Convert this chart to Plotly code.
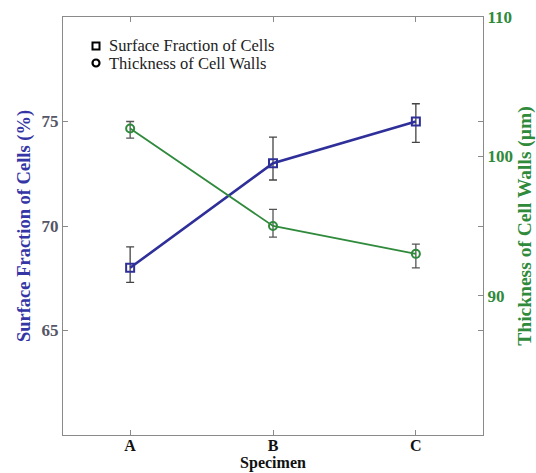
import plotly.graph_objects as go

specimens = ["A", "B", "C"]
xpos = [0, 1, 2]
surface_fraction = [68.0, 73.0, 75.0]
sf_err_plus = [1.0, 1.25, 0.85]
sf_err_minus = [0.7, 0.8, 1.0]
wall_thickness = [102.0, 95.0, 93.0]
wt_err_plus = [0.5, 1.2, 0.7]
wt_err_minus = [0.7, 0.8, 1.0]
legend_labels = ["Surface Fraction of Cells", "Thickness of Cell Walls"]

BLUE = "#2f2f9a"
GREEN = "#2f8a3c"
AXC = "#8a8a8a"
FONT = "Liberation Serif"

fig = go.Figure()
fig.add_trace(go.Scatter(
    x=xpos, y=surface_fraction, mode="lines+markers",
    line=dict(color=BLUE, width=2.6),
    marker=dict(symbol="square-open", size=8, color=BLUE, line=dict(width=2)),
    error_y=dict(type="data", symmetric=False, array=sf_err_plus, arrayminus=sf_err_minus,
                 color="#444444", thickness=1.3, width=4),
    showlegend=False, yaxis="y"))
fig.add_trace(go.Scatter(
    x=xpos, y=wall_thickness, mode="lines+markers",
    line=dict(color=GREEN, width=1.8),
    marker=dict(symbol="circle-open", size=8, color=GREEN, line=dict(width=2)),
    error_y=dict(type="data", symmetric=False, array=wt_err_plus, arrayminus=wt_err_minus,
                 color="#555555", thickness=1.3, width=4),
    showlegend=False, yaxis="y2"))

# legend drawn as shapes + annotations (paper coords)
def px_x(p):
    return (p - 63) / 420.0

def px_y(p):
    return 1 - (p - 17) / 418.0

fig.add_shape(type="rect", xref="paper", yref="paper",
              x0=px_x(92.5), x1=px_x(99.5), y0=px_y(42.5), y1=px_y(49.5),
              line=dict(color="black", width=2), fillcolor="white")
fig.add_shape(type="circle", xref="paper", yref="paper",
              x0=px_x(92.5), x1=px_x(99.5), y0=px_y(59.5), y1=px_y(66.5),
              line=dict(color="black", width=2.2), fillcolor="white")
for lab, yy in zip(legend_labels, [45.5, 63.5]):
    fig.add_annotation(text=lab, xref="paper", yref="paper", x=px_x(108), y=px_y(yy),
                       xanchor="left", yanchor="middle", showarrow=False, borderpad=0,
                       font=dict(family=FONT, size=16.5, color="#222222"))

fig.update_layout(
    width=536, height=473,
    margin=dict(l=63, r=53, t=17, b=38),
    paper_bgcolor="white", plot_bgcolor="white",
    font=dict(family=FONT, color="black"),
    showlegend=False,
    xaxis=dict(range=[-0.47, 2.47], tickvals=xpos, ticktext=specimens, automargin=False,
               ticks="inside", ticklen=5, tickcolor=AXC, showline=True, linecolor=AXC,
               mirror="ticks", showgrid=False, zeroline=False, ticklabelstandoff=-4,
               tickfont=dict(family=FONT, size=16, weight="bold", color="#111111"),
               title=dict(text="Specimen", font=dict(family=FONT, size=16, weight="bold", color="#111111"),
                          standoff=0)),
    yaxis=dict(range=[60, 80], tickvals=[65, 70, 75], ticks="inside", ticklen=5, tickcolor=AXC,
               automargin=False,
               showline=True, linecolor=AXC, mirror="ticks", showgrid=False, zeroline=False,
               tickfont=dict(family=FONT, size=17, weight="bold", color="#555566"),
               title=dict(text="Surface Fraction of Cells (%)",
                          font=dict(family=FONT, size=18.5, weight="bold", color="#3535a5"), standoff=6)),
    yaxis2=dict(range=[80, 110], tickvals=[90, 100, 110], overlaying="y", side="right",
                automargin=False,
                ticks="inside", ticklen=5, tickcolor=AXC, showline=True, linecolor=AXC,
                showgrid=False, zeroline=False,
                tickfont=dict(family=FONT, size=17, weight="bold", color=GREEN),
                title=dict(text="Thickness of Cell Walls (μm)",
                           font=dict(family=FONT, size=19.5, weight="bold", color=GREEN), standoff=6)),
)

fig.write_html("out.html")
